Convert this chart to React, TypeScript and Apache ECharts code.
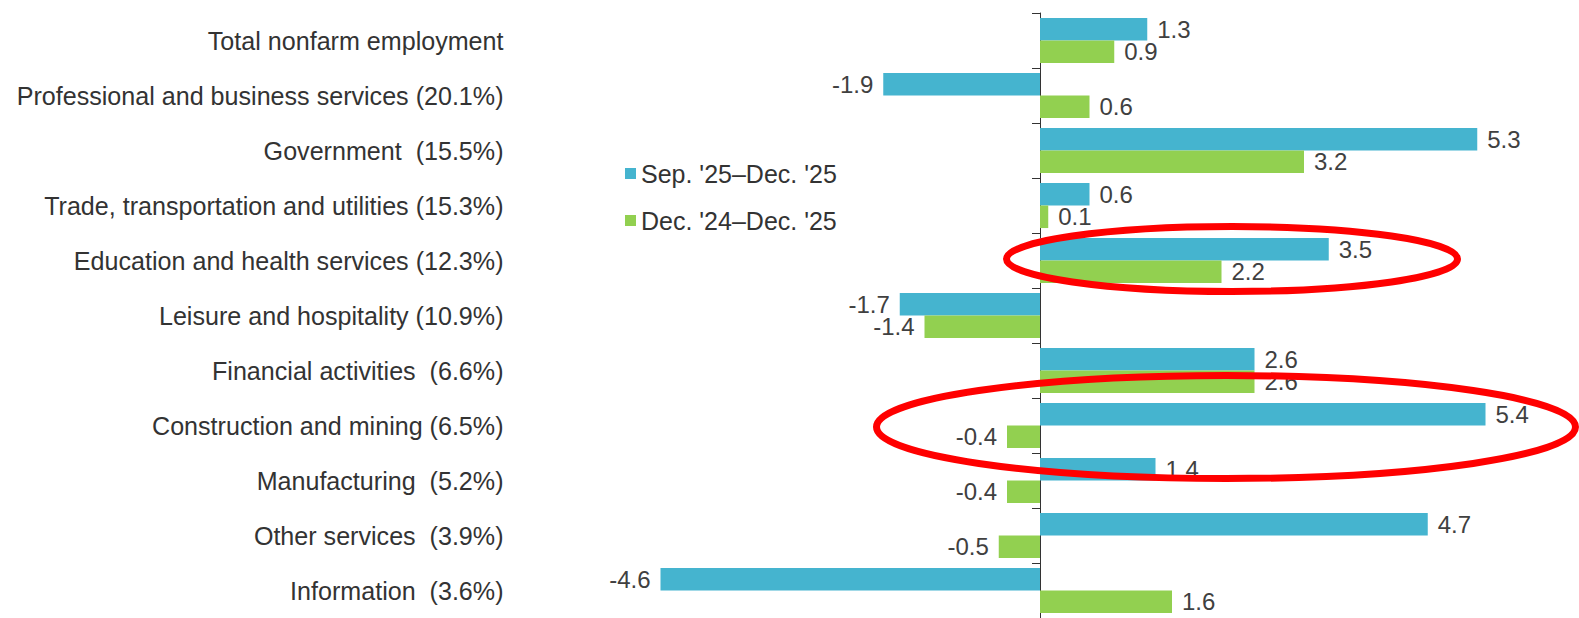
import React, { useEffect, useRef } from "react";
import * as echarts from "echarts";

const categories = [
  "Total nonfarm employment",
  "Professional and business services (20.1%)",
  "Government  (15.5%)",
  "Trade, transportation and utilities (15.3%)",
  "Education and health services (12.3%)",
  "Leisure and hospitality (10.9%)",
  "Financial activities  (6.6%)",
  "Construction and mining (6.5%)",
  "Manufacturing  (5.2%)",
  "Other services  (3.9%)",
  "Information  (3.6%)",
];
const seriesNames = ["Sep. '25\u2013Dec. '25", "Dec. '24\u2013Dec. '25"];
const sepDec25 = [1.3, -1.9, 5.3, 0.6, 3.5, -1.7, 2.6, 5.4, 1.4, 4.7, -4.6];
const dec24Dec25 = [0.9, 0.6, 3.2, 0.1, 2.2, -1.4, 2.6, -0.4, -0.4, -0.5, 1.6];
const colors = ["#45B4CF", "#92D050"];

const FONT = "'Liberation Sans', Arial, sans-serif";

export default function App() {
  const ref = useRef<HTMLDivElement>(null);
  useEffect(() => {
    if (!ref.current) return;
    const chart = echarts.init(ref.current, undefined, { renderer: "svg" });
    const mkData = (vals: number[]) =>
      vals.map((v) => ({
        value: v,
        label: { position: v < 0 ? "left" : "right" },
      }));
    const mkSeries = (name: string, vals: number[], color: string) => ({
      name,
      type: "bar",
      yAxisIndex: 0,
      data: mkData(vals),
      itemStyle: { color },
      barGap: "0%",
      barCategoryGap: "18%",
      label: {
        show: true,
        distance: 10,
        color: "#404040",
        fontSize: 24,
        fontFamily: FONT,
        formatter: (p: any) => p.value.toFixed(1),
      },
    });
    chart.setOption({
      animation: false,
      textStyle: { fontFamily: FONT },
      grid: { left: 627.5, right: 44, top: 13, bottom: 0, containLabel: false },
      legend: {
        orient: "vertical",
        left: 620,
        top: 156,
        icon: "rect",
        itemWidth: 11,
        itemHeight: 11,
        itemGap: 22,
        textStyle: { fontSize: 25, color: "#333", fontFamily: FONT },
        data: seriesNames,
      },
      xAxis: {
        type: "value",
        min: -5,
        max: 6,
        show: false,
      },
      yAxis: [
        {
          type: "category",
          data: categories,
          inverse: true,
          position: "left",
          axisLine: { show: true, onZero: true, lineStyle: { color: "#333", width: 1 } },
          axisTick: { show: true, length: 8, lineStyle: { color: "#333" } },
          axisLabel: { show: false },
          splitLine: { show: false },
        },
        {
          type: "category",
          data: categories,
          inverse: true,
          position: "left",
          axisLine: { show: false, onZero: false },
          axisTick: { show: false },
          axisLabel: {
            show: true,
            margin: 124,
            fontSize: 25.1,
            color: "#333",
            fontFamily: FONT,
            padding: [0, 0, 6, 0],
          },
          splitLine: { show: false },
        },
      ],
      series: [
        mkSeries(seriesNames[0], sepDec25, colors[0]),
        mkSeries(seriesNames[1], dec24Dec25, colors[1]),
      ],
      graphic: [
        {
          type: "ellipse",
          z: 100,
          shape: { cx: 1232, cy: 259, rx: 225.5, ry: 32.5 },
          style: { fill: "none", stroke: "#FF0000", lineWidth: 7 },
        },
        {
          type: "ellipse",
          z: 100,
          shape: { cx: 1226, cy: 427, rx: 349.5, ry: 51.5 },
          style: { fill: "none", stroke: "#FF0000", lineWidth: 7 },
        },
      ],
    });
    return () => chart.dispose();
  }, []);
  return (
    <div
      ref={ref}
      style={{ position: "absolute", left: 0, top: 0, width: 1579, height: 618 }}
    />
  );
}
